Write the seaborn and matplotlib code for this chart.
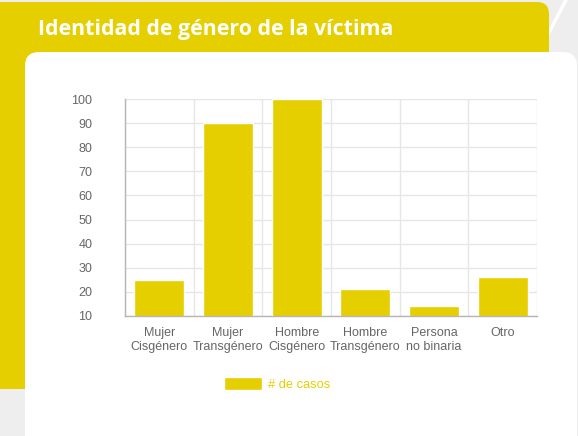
import matplotlib
matplotlib.use("Agg")
import matplotlib.pyplot as plt
from matplotlib.patches import FancyBboxPatch
from matplotlib.transforms import IdentityTransform
import seaborn as sns
import pandas as pd

# data
categories = ["Mujer\nCisgénero", "Mujer\nTransgénero", "Hombre\nCisgénero",
              "Hombre\nTransgénero", "Persona\nno binaria", "Otro"]
casos = [25, 90, 100, 21, 14, 26]
y_ticks = [10, 20, 30, 40, 50, 60, 70, 80, 90, 100]

yellow = "#e6cf00"
grey_txt = "#666666"

df = pd.DataFrame({"categoria": categories, "casos": casos})

sns.set_style("white")
plt.rcParams["font.family"] = ["Liberation Sans", "DejaVu Sans"]

W, H = 578, 436
fig = plt.figure(figsize=(W / 100, H / 100), dpi=100)
fig.patch.set_facecolor("#eeeeee")

# decorative panels (pixel coords, origin bottom-left), kept behind the axes
def px_box(x0, y0_top, x1, y1_top, color, r, z):
    p = FancyBboxPatch((x0 + r, H - y1_top + r), (x1 - x0) - 2 * r, (y1_top - y0_top) - 2 * r,
                       boxstyle=f"round,pad={r}", transform=IdentityTransform(),
                       facecolor=color, edgecolor="none", zorder=z)
    fig.patches.append(p)

fig.add_artist(plt.Line2D([566, 545], [H, H - 40], transform=IdentityTransform(),
                          color="white", lw=2.5, zorder=-3))
px_box(-20, 2, 549, 389, yellow, 12, -2)
px_box(25, 52, 577, 460, "white", 14, -1)

fig.text(38 / W, 1 - 35 / H, "Identidad de género de la víctima", color="white",
         fontsize=15.4, fontweight="bold", family=["Open Sans", "DejaVu Sans"],
         ha="left", va="baseline")

ax = fig.add_axes([125 / W, 1 - 316 / H, 412 / W, 217 / H])
ax.set_facecolor("none")
sns.barplot(data=df, x="categoria", y="casos", color=yellow, width=0.73,
            saturation=1, label="# de casos", legend=False, ax=ax)

ax.set_ylim(10, 100)
ax.set_xlim(-0.5, len(categories) - 0.5)
ax.set_yticks(y_ticks)
ax.set_xticks(range(len(categories)))
ax.set_xticks([i - 0.5 for i in range(len(categories) + 1)], minor=True)
ax.set_xlabel("")
ax.set_ylabel("")

ax.grid(axis="y", which="major", color="#e6e6e6", lw=1)
ax.grid(axis="x", which="minor", color="#e6e6e6", lw=1)
ax.set_axisbelow(True)
ax.tick_params(axis="y", length=8.5, color="#e6e6e6", width=1, pad=15,
               labelsize=9, labelcolor=grey_txt)
ax.tick_params(axis="x", which="major", length=0, pad=8, labelsize=9, labelcolor=grey_txt)
ax.tick_params(axis="x", which="minor", length=8, color="#e6e6e6", width=1)
for s in ["top", "right"]:
    ax.spines[s].set_visible(False)
for s in ["left", "bottom"]:
    ax.spines[s].set_color("#b5b5b5")
    ax.spines[s].set_linewidth(1)

handles, labels = ax.get_legend_handles_labels()
leg = fig.legend(handles[:1], labels[:1], loc="center", bbox_to_anchor=(277 / W, 1 - 384 / H),
                 frameon=False, fontsize=9.3, handlelength=2.9, handleheight=1.1,
                 handletextpad=0.45)
for t in leg.get_texts():
    t.set_color(yellow)

fig.savefig("out.png", dpi=100)
